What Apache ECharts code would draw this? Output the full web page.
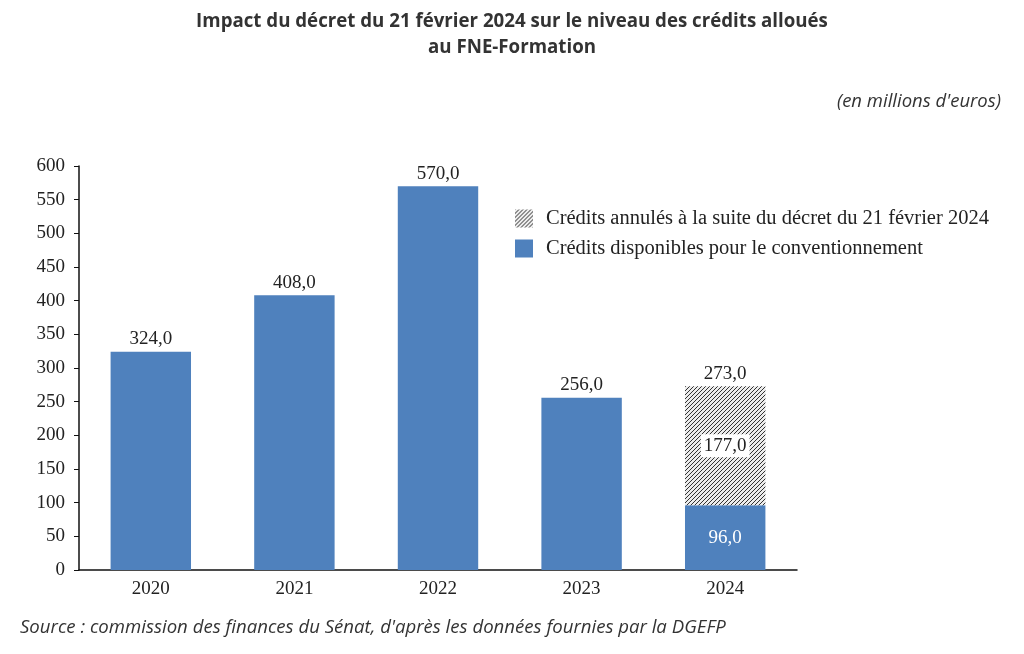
<!DOCTYPE html>
<html>
<head>
<meta charset="utf-8">
<script src="https://cdn.jsdelivr.net/npm/echarts@6/dist/echarts.min.js"></script>
<style>html,body{margin:0;padding:0;background:#fff}#c{width:1024px;height:654px}</style>
</head>
<body>
<div id="c"></div>
<script>
const categories = ['2020', '2021', '2022', '2023', '2024'];
const disponibles = [324, 408, 570, 256, 96];
const annules = [null, null, null, null, 177];
const yTicks = { min: 0, max: 600, interval: 50 };
const seriesNames = ['Crédits annulés à la suite du décret du 21 février 2024', 'Crédits disponibles pour le conventionnement'];

const fmt = v => v.toFixed(1).replace('.', ',');
const totals = categories.map((c, i) => (disponibles[i] || 0) + (annules[i] || 0));

function hatch() {
  const s = 4;
  const cv = document.createElement('canvas');
  cv.width = s; cv.height = s;
  const ctx = cv.getContext('2d');
  ctx.fillStyle = '#ececec';
  ctx.fillRect(0, 0, s, s);
  ctx.strokeStyle = '#333';
  ctx.lineWidth = 1;
  ctx.beginPath();
  ctx.moveTo(-1, s + 1); ctx.lineTo(s + 1, -1);
  ctx.moveTo(-1, 1); ctx.lineTo(1, -1);
  ctx.moveTo(s - 1, s + 1); ctx.lineTo(s + 1, s - 1);
  ctx.stroke();
  return cv;
}
const hatchColor = { image: hatch(), repeat: 'repeat' };
const blue = '#4f81bd';
const serif = '"Liberation Serif", "DejaVu Serif", serif';
const sans = '"Open Sans", "Noto Sans", sans-serif';
const fs = 19;

const chart = echarts.init(document.getElementById('c'), null, { renderer: 'canvas' });
chart.setOption({
  animation: false,
  title: [
    { text: 'Impact du décret du 21 février 2024 sur le niveau des crédits alloués\nau FNE-Formation', left: 'center', top: 4,
      textStyle: { fontFamily: sans, fontWeight: 'bold', fontSize: 18.7, color: '#333', lineHeight: 26 } },
    { text: "(en millions d'euros)", right: 18, top: 87,
      textStyle: { fontFamily: sans, fontStyle: 'italic', fontWeight: 'normal', fontSize: 18.5, color: '#333' } },
    { text: "Source : commission des finances du Sénat, d'après les données fournies par la DGEFP", left: 15, top: 613,
      textStyle: { fontFamily: sans, fontStyle: 'italic', fontWeight: 'normal', fontSize: 18.6, color: '#333' } }
  ],
  legend: {
    data: seriesNames.map(n => ({ name: n, icon: 'rect' })), orient: 'vertical', left: 510, top: 203, itemGap: 9,
    itemWidth: 18, itemHeight: 18, itemStyle: { borderWidth: 0 },
    textStyle: { fontFamily: serif, fontSize: 20.5, color: '#222', padding: [0, 0, 0, 8] }, selectedMode: false
  },
  grid: { left: 79, top: 166, width: 718, height: 404 },
  xAxis: {
    type: 'category', data: categories,
    axisLine: { lineStyle: { color: '#111', width: 1.5 } },
    axisTick: { show: false },
    axisLabel: { fontFamily: serif, fontSize: fs, color: '#222', margin: 10 }
  },
  yAxis: {
    type: 'value', min: yTicks.min, max: yTicks.max, interval: yTicks.interval,
    axisLine: { show: true, lineStyle: { color: '#111', width: 1.5 } },
    axisTick: { show: true, length: 5, lineStyle: { color: '#111' } },
    splitLine: { show: false },
    axisLabel: { fontFamily: serif, fontSize: fs, color: '#222', margin: 14 }
  },
  series: [
    {
      name: seriesNames[1], type: 'bar', stack: 'a', barWidth: '56%',
      itemStyle: { color: blue },
      data: disponibles.map((v, i) => ({
        value: v,
        label: annules[i] ? { show: true, position: 'inside', color: '#fff', formatter: p => fmt(p.value), fontFamily: serif, fontSize: fs }
                          : { show: true, position: 'top', color: '#222', formatter: p => fmt(p.value), fontFamily: serif, fontSize: fs, distance: 3 }
      }))
    },
    {
      name: seriesNames[0], type: 'bar', stack: 'a', barWidth: '56%',
      itemStyle: { color: hatchColor },
      label: { show: true, position: 'inside', color: '#222', backgroundColor: '#fff', padding: [2, 3],
        formatter: p => p.value ? fmt(p.value) : '', fontFamily: serif, fontSize: fs },
      data: annules
    },
    {
      name: 'total', type: 'bar', stack: 'a', barWidth: '56%',
      itemStyle: { color: 'transparent' },
      label: { show: true, position: 'top', color: '#222', fontFamily: serif, fontSize: fs, distance: 3,
        formatter: p => fmt(totals[p.dataIndex]) },
      data: categories.map((c, i) => annules[i] ? 0 : null)
    }
  ]
});
</script>
</body>
</html>
